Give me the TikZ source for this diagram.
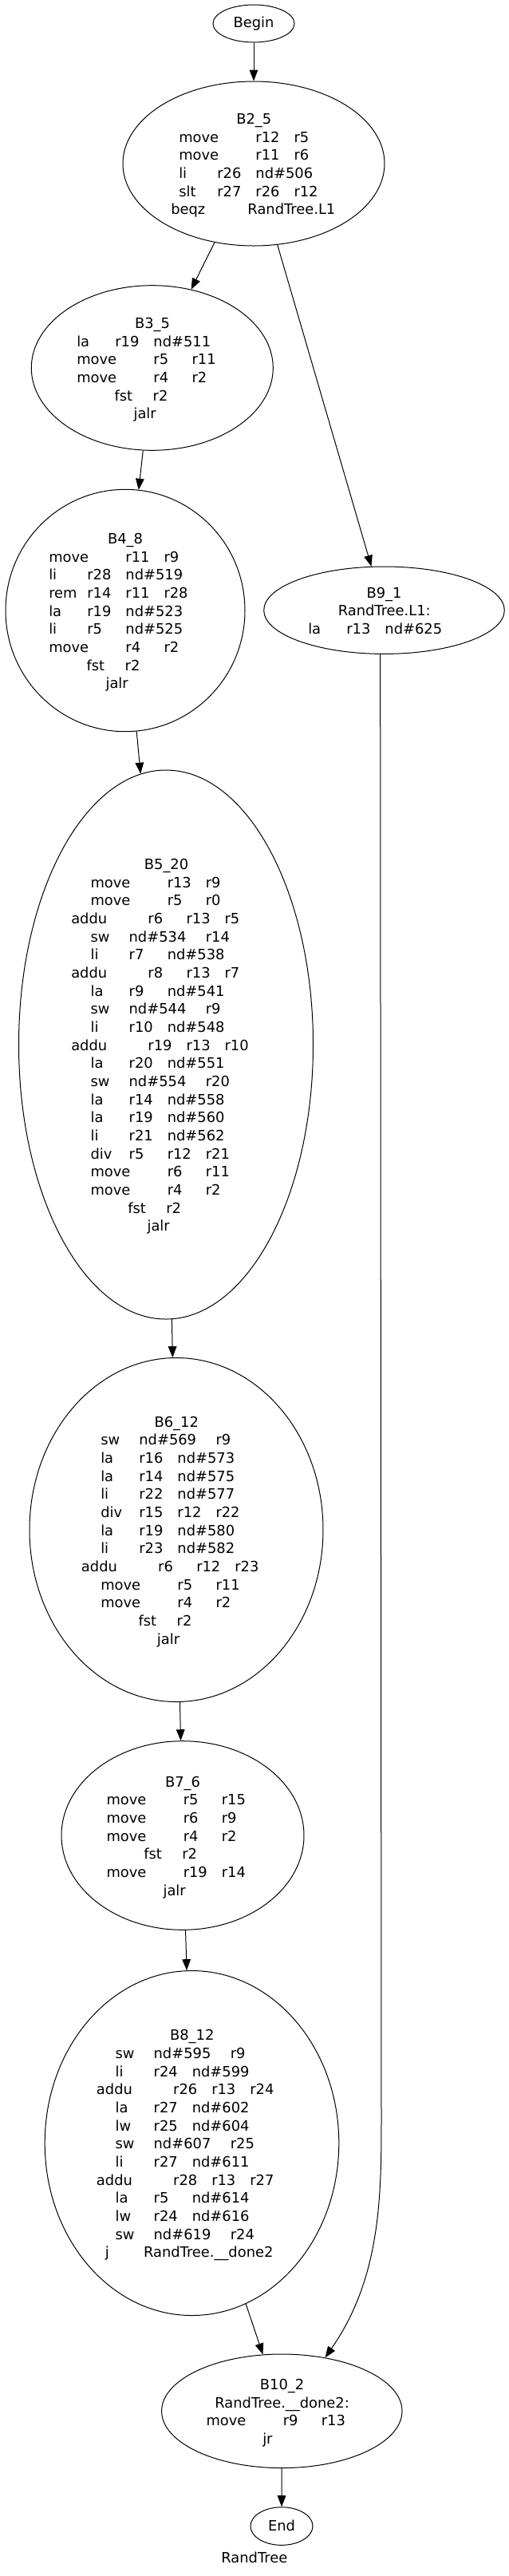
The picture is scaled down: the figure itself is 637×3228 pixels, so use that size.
\documentclass[tikz,border=0pt]{standalone}
\usepackage{fontspec}
\setmainfont{DejaVu Sans}
\usetikzlibrary{shapes.geometric,arrows.meta}
\newdimen\pxu \pxu=0.75pt
\newdimen\tabw \tabw=36.075pt
\newcommand\gvfont{\fontsize{13.4pt}{17pt}\selectfont}
\newcommand\tbx[2]{\makebox[#1\tabw][l]{#2}}
\newcommand\gind[1]{\hspace*{#1\pxu}}
\newcommand\gctr[2]{\hspace*{#1\pxu}\makebox[0pt]{#2}}
\newcommand\gstrut{\rule{0pt}{12\pxu}}
\tikzset{
  gv/.style 2 args={ellipse, draw, line width=0.75pt, inner sep=0pt,
    minimum width={2*#1*0.75pt}, minimum height={2*#2*0.75pt}, font=\gvfont},
  txt/.style={anchor=north west, inner sep=0pt, align=left, font=\gvfont},
  edge/.style={draw, line width=0.75pt, -{Triangle[length=10.5pt,width=8pt]}}
}
\begin{document}
\begin{tikzpicture}[x=0.75pt,y=-0.75pt]
\fill[white] (0,0) rectangle (637,3228);
\useasboundingbox (0,0) rectangle (637,3228);

% ellipses
\node[gv={51}{23.5}, text height=8.2pt, text depth=0pt] (begin) at (318,29.5) {Begin};
\node[gv={164}{103}] (b2) at (318,205) {};
\node[gv={151.5}{103.3}] (b3) at (190.8,461) {};
\node[gv={150}{151.7}] (b4) at (157,765) {};
\node[gv={150.8}{54.7}] (b9) at (481.5,764.7) {};
\node[gv={184.5}{344}] (b5) at (208,1309) {};
\node[gv={184}{215.5}] (b6) at (221,1917) {};
\node[gv={152}{118.3}] (b7) at (229,2300) {};
\node[gv={184.3}{216}] (b8) at (240.5,2685.5) {};
\node[gv={150.7}{71.3}] (b10) at (353.3,3021.3) {};
\node[gv={39}{23.8}, text height=8.2pt, text depth=0pt] (end) at (353,3165.5) {End};

% texts
\node[txt] (b2t) at (214,142) {\gstrut\gctr{104}{B2\_5}\\
\gind{10}\tbx2{move}\tbx1{r12}r5\\
\gind{10}\tbx2{move}\tbx1{r11}r6\\
\gind{10}\tbx1{li}\tbx1{r26}nd\#506\\
\gind{10}\tbx1{slt}\tbx1{r27}\tbx1{r26}r12\\
\tbx2{beqz}RandTree.L1};

\node[txt] (b3t) at (96,398) {\gstrut\gctr{94.8}{B3\_5}\\
\tbx1{la}\tbx1{r19}nd\#511\\
\tbx2{move}\tbx1{r5}r11\\
\tbx2{move}\tbx1{r4}r2\\
\gind{47.3}\tbx1{fst}r2\\
\gind{71.3}jalr};

\node[txt] (b4t) at (61,668) {\gstrut\gctr{95.8}{B4\_8}\\
\tbx2{move}\tbx1{r11}r9\\
\tbx1{li}\tbx1{r28}nd\#519\\
\tbx1{rem}\tbx1{r14}\tbx1{r11}r28\\
\tbx1{la}\tbx1{r19}nd\#523\\
\tbx1{li}\tbx1{r5}nd\#525\\
\tbx2{move}\tbx1{r4}r2\\
\gind{47.3}\tbx1{fst}r2\\
\gind{71.3}jalr};

\node[txt] (b9t) at (386,735.7) {\gstrut\gctr{95.3}{B9\_1}\\
\gctr{95.5}{RandTree.L1:}\\
\tbx1{la}\tbx1{r13}nd\#625};

\node[txt] (b5t) at (89,1076) {\gstrut\gctr{119.3}{B5\_20}\\
\gind{24.3}\tbx2{move}\tbx1{r13}r9\\
\gind{24.3}\tbx2{move}\tbx1{r5}r0\\
\tbx2{addu}\tbx1{r6}\tbx1{r13}r5\\
\gind{24.3}\tbx1{sw}\tbx2{nd\#534}r14\\
\gind{24.3}\tbx1{li}\tbx1{r7}nd\#538\\
\tbx2{addu}\tbx1{r8}\tbx1{r13}r7\\
\gind{24.3}\tbx1{la}\tbx1{r9}nd\#541\\
\gind{24.3}\tbx1{sw}\tbx2{nd\#544}r9\\
\gind{24.3}\tbx1{li}\tbx1{r10}nd\#548\\
\tbx2{addu}\tbx1{r19}\tbx1{r13}r10\\
\gind{24.3}\tbx1{la}\tbx1{r20}nd\#551\\
\gind{24.3}\tbx1{sw}\tbx2{nd\#554}r20\\
\gind{24.3}\tbx1{la}\tbx1{r14}nd\#558\\
\gind{24.3}\tbx1{la}\tbx1{r19}nd\#560\\
\gind{24.3}\tbx1{li}\tbx1{r21}nd\#562\\
\gind{24.3}\tbx1{div}\tbx1{r5}\tbx1{r12}r21\\
\gind{24.3}\tbx2{move}\tbx1{r6}r11\\
\gind{24.3}\tbx2{move}\tbx1{r4}r2\\
\gind{71}\tbx1{fst}r2\\
\gind{95.3}jalr};

\node[txt] (b6t) at (101.7,1774.7) {\gstrut\gctr{119.3}{B6\_12}\\
\gind{24.3}\tbx1{sw}\tbx2{nd\#569}r9\\
\gind{24.3}\tbx1{la}\tbx1{r16}nd\#573\\
\gind{24.3}\tbx1{la}\tbx1{r14}nd\#575\\
\gind{24.3}\tbx1{li}\tbx1{r22}nd\#577\\
\gind{24.3}\tbx1{div}\tbx1{r15}\tbx1{r12}r22\\
\gind{24.3}\tbx1{la}\tbx1{r19}nd\#580\\
\gind{24.3}\tbx1{li}\tbx1{r23}nd\#582\\
\tbx2{addu}\tbx1{r6}\tbx1{r12}r23\\
\gind{24.3}\tbx2{move}\tbx1{r5}r11\\
\gind{24.3}\tbx2{move}\tbx1{r4}r2\\
\gind{71.6}\tbx1{fst}r2\\
\gind{95}jalr};

\node[txt] (b7t) at (133.3,2225.7) {\gstrut\gctr{95.4}{B7\_6}\\
\tbx2{move}\tbx1{r5}r15\\
\tbx2{move}\tbx1{r6}r9\\
\tbx2{move}\tbx1{r4}r2\\
\gind{46.7}\tbx1{fst}r2\\
\tbx2{move}\tbx1{r19}r14\\
\gind{71}jalr};

\node[txt] (b8t) at (120.7,2543.2) {\gstrut\gctr{119.8}{B8\_12}\\
\gind{23.6}\tbx1{sw}\tbx2{nd\#595}r9\\
\gind{23.6}\tbx1{li}\tbx1{r24}nd\#599\\
\tbx2{addu}\tbx1{r26}\tbx1{r13}r24\\
\gind{23.6}\tbx1{la}\tbx1{r27}nd\#602\\
\gind{23.6}\tbx1{lw}\tbx1{r25}nd\#604\\
\gind{23.6}\tbx1{sw}\tbx2{nd\#607}r25\\
\gind{23.6}\tbx1{li}\tbx1{r27}nd\#611\\
\tbx2{addu}\tbx1{r28}\tbx1{r13}r27\\
\gind{23.6}\tbx1{la}\tbx1{r5}nd\#614\\
\gind{23.6}\tbx1{lw}\tbx1{r24}nd\#616\\
\gind{23.6}\tbx1{sw}\tbx2{nd\#619}r24\\
\gind{11}\tbx1{j}RandTree.\_\_done2};

\node[txt] (b10t) at (258.3,2981) {\gstrut\gctr{95}{B10\_2}\\
\gctr{95}{RandTree.\_\_done2:}\\
\tbx2{move}\tbx1{r9}r13\\
\gind{70.7}jr};

\node[anchor=base, inner sep=0pt, font=\gvfont] (lbl) at (318.8,3211.7) {RandTree};

% edges
\draw[edge] (begin) -- (b2);
\draw[edge] (b2) -- (b3);
\draw[edge] (b2) -- (b9);
\draw[edge] (b3) -- (b4);
\draw[edge] (b4) -- (b5);
\draw[edge] (b5) -- (b6);
\draw[edge] (b6) -- (b7);
\draw[edge] (b7) -- (b8);
\draw[edge] (b8) -- (b10);
\coordinate (bend) at (478,2650);
\draw[edge] (b9.265) -- (bend) .. controls (478,2750) and (478,2853) .. (b10.51);
\draw[edge] (b10) -- (end);
\end{tikzpicture}
\end{document}
